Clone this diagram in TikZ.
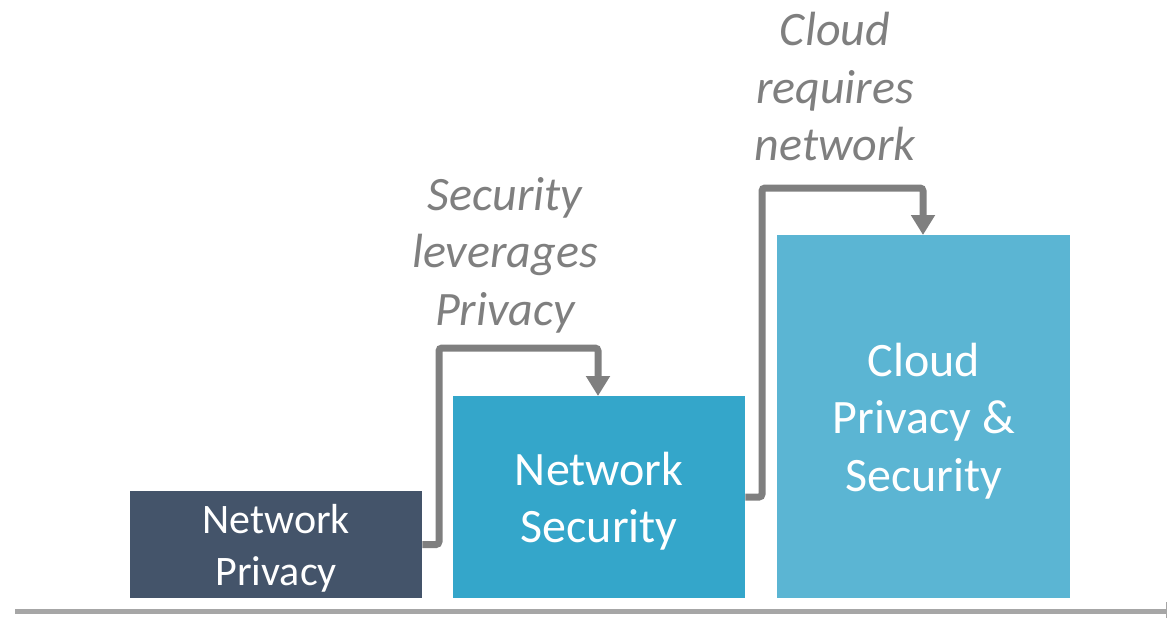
\documentclass[tikz,border=0pt]{standalone}
\usepackage{fontspec}
\setmainfont{Carlito}
\usetikzlibrary{arrows.meta}
\definecolor{darkbox}{HTML}{44546A}
\definecolor{midbox}{HTML}{34A6CA}
\definecolor{lightbox}{HTML}{5BB5D3}
\definecolor{conngray}{HTML}{7F7F7F}
\definecolor{axisgray}{HTML}{A6A6A6}
\begin{document}
\begin{tikzpicture}[x=1pt,y=-1pt,
  stepbox/.style={inner sep=0pt, anchor=north west},
  boxtext/.style={text=white, align=center, inner sep=0pt,
    font=\fontsize{48}{57.5}\selectfont},
  lbl/.style={text=conngray, align=center, font=\fontsize{48}{57.5}\selectfont\itshape},
  conn/.style={draw=conngray, line width=7pt, rounded corners=3pt,
    -{Triangle[width=23pt,length=20pt]}},
  axis/.style={draw=axisgray, line width=5pt}]
\useasboundingbox (0,0) rectangle (1168,622);
\node[stepbox, fill=darkbox, minimum width=292pt, minimum height=107pt] (np) at (130,491) {};
\node[stepbox, fill=midbox, minimum width=292pt, minimum height=202pt] (ns) at (453,396) {};
\node[stepbox, fill=lightbox, minimum width=293pt, minimum height=363pt] (cp) at (777,235) {};
\node[boxtext, font=\fontsize{42}{52}\selectfont] (npt) at ([yshift=-4pt]np.center) {Network\\Privacy};
\node[boxtext] (nst) at ([yshift=-4pt]ns.center) {Network\\Security};
\node[boxtext] (cpt) at ([yshift=-4pt]cp.center) {Cloud\\Privacy \&\\Security};
\node[lbl] (l1) at (505,255) {Security\\leverages\\Privacy};
\node[lbl] (l2) at (835,87) {Cloud\\requires\\network};
\draw[conn] (np.east) -- (439,544.5) |- (598,348) -- (ns.north -| 598,0);
\draw[conn] (ns.east) -- (762,497) |- (923,188) -- (cp.north -| 923,0);
\coordinate (ax0) at (15,611);
\coordinate (ax1) at (1166,611);
\draw[axis] (ax0) -- (ax1);
\draw[draw=axisgray, line width=1pt] ([yshift=-7pt]ax1) -- ([yshift=9pt]ax1);
\end{tikzpicture}
\end{document}
